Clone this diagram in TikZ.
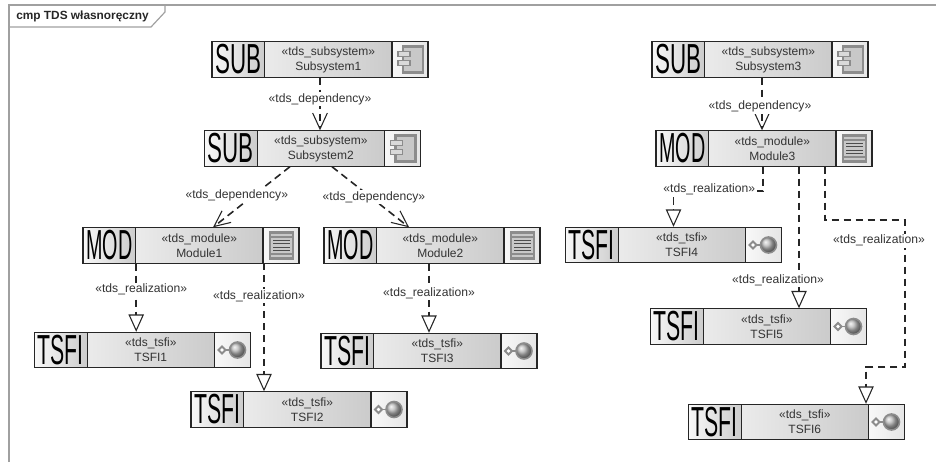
\documentclass[tikz,border=0pt]{standalone}
\usepackage{fontspec}
\setmainfont{Liberation Sans}
\usetikzlibrary{arrows.meta}
\definecolor{framegray}{HTML}{A0A0A0}
\definecolor{icongray}{HTML}{8C8C8C}
\definecolor{iconfill}{HTML}{C8C8C8}
\definecolor{celldark}{HTML}{C2C2C2}
\definecolor{celllight}{HTML}{F8F8F8}
\tikzset{
    tdsbody/.style={rectangle, draw=black!85, line width=0.8pt, inner sep=0pt, minimum width=162pt, minimum height=26.5pt, left color=celllight, right color=celldark},
    tagcell/.style={rectangle, draw=black!85, line width=0.8pt, inner sep=0pt, minimum width=39.5pt, minimum height=26.5pt, left color=celllight, middle color=celllight, right color=black!20},
    iconcell/.style={rectangle, draw=black!85, line width=0.8pt, inner sep=0pt, minimum width=27pt, minimum height=26.5pt, left color=celllight, right color=black!10},
    tdstext/.style={align=center, inner sep=0pt, text=black!80, font=\fontsize{9}{11.4}\selectfont},
    tdslabel/.style={fill=white, inner sep=1pt, text=black!80, font=\fontsize{9.1}{11}\selectfont},
    tdsdep/.style={line width=1.2pt, dash pattern=on 5.5pt off 3.5pt, black!85, -{Straight Barb[length=12pt, width=11pt, line width=0.8pt]}},
    tdsreal/.style={line width=1.2pt, dash pattern=on 5.5pt off 3.5pt, black!85, -{Triangle[open, length=13pt, width=11.5pt, line width=0.8pt, fill=white]}},
    compicon/.pic={
        \draw[icongray, fill=iconfill, line width=1.6pt] (-7,-13) rectangle (13,13);
        \draw[icongray, fill=iconfill!70, line width=1.1pt] (-12,-8) rectangle (0,-3);
        \draw[icongray, fill=iconfill!70, line width=1.1pt] (-12,1) rectangle (0,6);
    },
    modicon/.pic={
        \draw[icongray, fill=iconfill, line width=1.6pt] (-11,-13) rectangle (12,13);
        \draw[icongray, line width=0.8pt] (-11,-8.5) -- (12,-8.5);
        \draw[icongray, line width=0.8pt] (-11,8.5) -- (12,8.5);
        \foreach \liney in {-5,-1.7,1.7,5} {\draw[black!70, line width=1pt] (-8,\liney) -- (9,\liney);}
    },
    keyicon/.pic={
        \draw[icongray, line width=1.4pt] (-8,0) -- (0,0);
        \draw[icongray, fill=white, line width=1.5pt] (-14,0) -- (-10.5,-3.5) -- (-7,0) -- (-10.5,3.5) -- cycle;
        \draw[icongray, ball color=black!28, line width=1.2pt] (5,0) circle (8);
    },
}
\newcommand{\tdsbox}[6]{
    \node[tdsbody] (#1) at (#2) {};
    \node[tagcell, anchor=west] (#1l) at (#1.west) {\resizebox{34.5pt}{22pt}{#3}};
    \node[iconcell, anchor=east] (#1r) at (#1.east) {};
    \node[tdstext] (#1t) at ([xshift=6.2pt]#1.center) {«#4»\\#5};
    \pic at (#1r.center) {#6};
}
\begin{document}
\begin{tikzpicture}[x=0.75pt, y=-0.75pt]
    \useasboundingbox (0,0) rectangle (936,462);

    % frame
    \draw[framegray, line width=1.1pt] (9,462) -- (9,5) -- (936,5);
    \node (frametab) [anchor=west, inner sep=0pt, font=\fontsize{8.9}{11}\selectfont\bfseries, text=black!85] at (16,16) {cmp TDS własnoręczny};
    \draw[framegray, line width=0.9pt] (9,27) -- (151,27) -- (165,12) -- (165,5);

    % left group
    \tdsbox{sub1}{320,59.5}{SUB}{tds\_subsystem}{Subsystem1}{compicon}
    \tdsbox{sub2}{312.5,148.5}{SUB}{tds\_subsystem}{Subsystem2}{compicon}
    \tdsbox{mod1}{191,245.5}{MOD}{tds\_module}{Module1}{modicon}
    \tdsbox{mod2}{432,245.5}{MOD}{tds\_module}{Module2}{modicon}
    \tdsbox{tsfi1}{142.5,350}{TSFI}{tds\_tsfi}{TSFI1}{keyicon}
    \tdsbox{tsfi2}{299,409.5}{TSFI}{tds\_tsfi}{TSFI2}{keyicon}
    \tdsbox{tsfi3}{429,351}{TSFI}{tds\_tsfi}{TSFI3}{keyicon}

    % right group
    \tdsbox{sub3}{760,59.5}{SUB}{tds\_subsystem}{Subsystem3}{compicon}
    \tdsbox{mod3}{764,148.5}{MOD}{tds\_module}{Module3}{modicon}
    \tdsbox{tsfi4}{673.5,245}{TSFI}{tds\_tsfi}{TSFI4}{keyicon}
    \tdsbox{tsfi5}{758.5,326.5}{TSFI}{tds\_tsfi}{TSFI5}{keyicon}
    \tdsbox{tsfi6}{796.5,422}{TSFI}{tds\_tsfi}{TSFI6}{keyicon}

    \coordinate (bend4a) at (763,191);
    \coordinate (bend4b) at (673.5,191);
    \coordinate (bend6a) at (825,220);
    \coordinate (bend6b) at (905,220);
    \coordinate (bend6c) at (905,367);
    \coordinate (bend6d) at (866,367);
    \coordinate (real2top) at (264,263);

    \draw[tdsdep] (sub1.south) -- (sub1.south |- sub2.north) node[tdslabel, pos=0.41] {«tds\_dependency»};
    \draw[tdsdep] ([xshift=-16.9pt]sub2.south) -- ([xshift=16.5pt]mod1.north) node[tdslabel, pos=0.47, xshift=-12.75pt] {«tds\_dependency»};
    \draw[tdsdep] ([xshift=14.6pt]sub2.south) -- ([xshift=-17.2pt]mod2.north) node[tdslabel, pos=0.5, xshift=2.6pt] {«tds\_dependency»};
    \draw[tdsdep] (sub3.south) ++(2,0) -- ([xshift=-1.5pt]mod3.north) node[tdslabel, pos=0.55, xshift=-1.5pt] {«tds\_dependency»};

    \draw[tdsreal] (mod1l.south east) -- (mod1l.south east |- tsfi1.north) node[tdslabel, pos=0.38, xshift=3.75pt] {«tds\_realization»};
    \draw[tdsreal] (real2top) -- (real2top |- tsfi2.north) node[tdslabel, pos=0.26, xshift=-3.75pt] {«tds\_realization»};
    \draw[tdsreal] (tsfi3.north |- mod2.south) -- (tsfi3.north) node[tdslabel, pos=0.43] {«tds\_realization»};
    \draw[tdsreal] (bend4a |- mod3.south) -- (bend4a) -- (bend4b) node[tdslabel, pos=0.6, yshift=1.5pt] {«tds\_realization»} -- (tsfi4.north);
    \draw[tdsreal] ([xshift=26.25pt]mod3.south) -- ([xshift=26.25pt]mod3.south |- tsfi5.north) node[tdslabel, pos=0.8, xshift=-15.75pt] {«tds\_realization»};
    \draw[tdsreal] (bend6a |- mod3.south) -- (bend6a) -- (bend6b) -- (bend6c) node[tdslabel, pos=0.14, xshift=-19.5pt] {«tds\_realization»} -- (bend6d) -- (bend6d |- tsfi6.north);
\end{tikzpicture}
\end{document}
